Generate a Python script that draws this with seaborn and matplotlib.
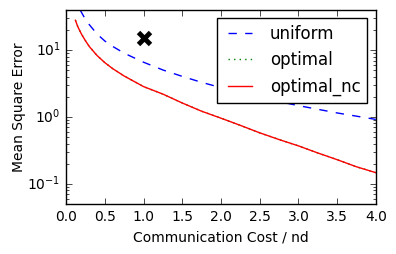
import numpy as np
import pandas as pd
import matplotlib
matplotlib.use('Agg')
import matplotlib.pyplot as plt
import seaborn as sns

# values
x_uniform = [0.18, 0.25, 0.3, 0.4, 0.5, 0.6, 0.75, 1.0, 1.25, 1.5, 1.75, 2.0,
             2.5, 3.0, 3.5, 4.0]
mse_uniform = [40, 28.8, 24, 17.4, 13.7, 11.4, 9.0, 6.6, 5.05, 4.05, 3.3, 2.75,
               1.95, 1.48, 1.15, 0.92]

x_opt = [0.12, 0.15, 0.2, 0.25, 0.3, 0.4, 0.5, 0.6, 0.75, 1.0, 1.25, 1.5,
         1.75, 2.0, 2.25, 2.5, 2.75, 3.0, 3.25, 3.5, 3.75, 4.0]
mse_opt = [28, 22.5, 17.2, 13.8, 11.3, 8.3, 6.5, 5.3, 4.1, 2.85, 2.2, 1.62,
           1.22, 0.96, 0.75, 0.58, 0.46, 0.37, 0.29, 0.23, 0.18, 0.147]
mse_opt_nc = mse_opt

point_x = [1.0]
point_y = [15]

plt.style.use('classic')
plt.rcParams['figure.facecolor'] = 'white'
plt.rcParams['savefig.facecolor'] = 'white'
plt.rcParams['font.family'] = ['DejaVu Sans']

fig = plt.figure(figsize=(3.96, 2.54), dpi=100)
ax = fig.add_axes([0.167, 0.197, 0.782, 0.764])

sns.lineplot(x=x_uniform, y=mse_uniform, ax=ax, color='b', linestyle='--',
             label='uniform', lw=1)
sns.lineplot(x=x_opt, y=mse_opt, ax=ax, color='g', linestyle=':',
             label='optimal', lw=1)
sns.lineplot(x=x_opt, y=mse_opt_nc, ax=ax, color='r', linestyle='-',
             label='optimal_nc', lw=1)
ax.plot(point_x, point_y, 'kx', markersize=9, mew=3.5)

ax.set_yscale('log')
ax.set_xlim(0, 4)
ax.set_ylim(0.05, 40)
ax.set_xticks(np.arange(0, 4.01, 0.5))
ax.tick_params(labelsize=10)
ax.set_xlabel('Communication Cost / nd', fontsize=10)
ax.set_ylabel('Mean Square Error', fontsize=10, labelpad=1)
ax.legend(loc='upper right', fontsize=12, handlelength=2.0,
          handletextpad=0.8)

fig.savefig('out.png', dpi=100)
